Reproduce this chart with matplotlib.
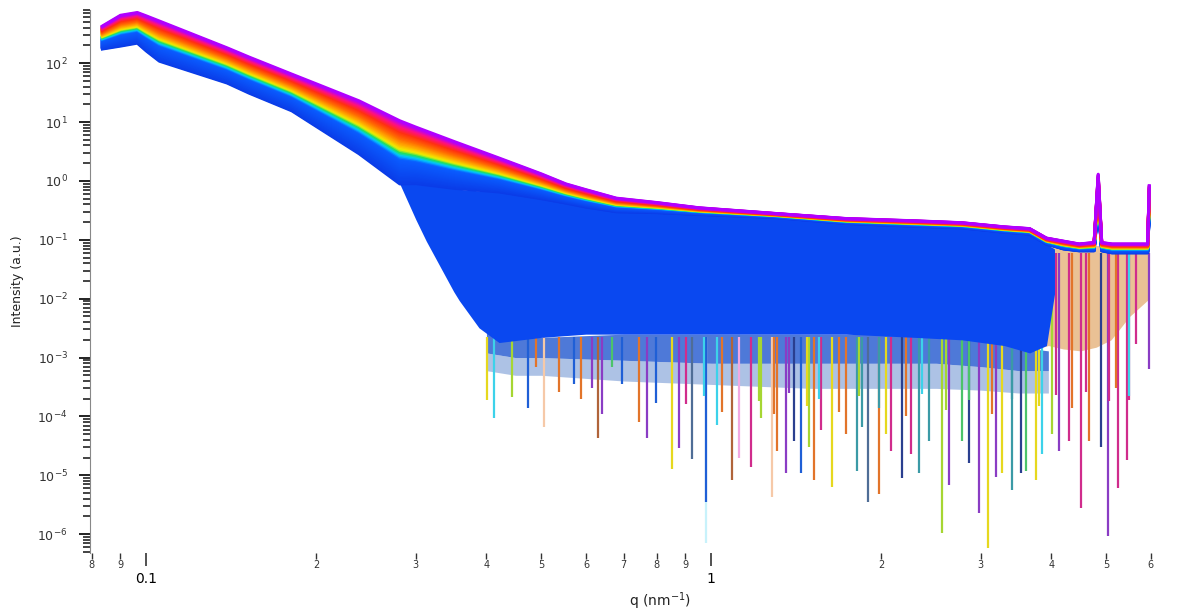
import numpy as np
import matplotlib.pyplot as plt
from matplotlib.colors import LinearSegmentedColormap
from matplotlib.ticker import FixedLocator, FixedFormatter, LogLocator, NullFormatter, LogFormatterMathtext

# upper (purple) and lower (blue) edge of the family of curves
q_curve = [0.0836, 0.09, 0.0964, 0.1, 0.1055, 0.139, 0.152, 0.181, 0.2, 0.238, 0.281,
           0.3, 0.35, 0.421, 0.5, 0.553, 0.6, 0.679, 0.8, 0.951, 1.3, 1.73, 2.3,
           2.78, 3.3, 3.66, 3.92, 4.2, 4.48, 4.76, 4.84, 4.91, 5.12, 5.5, 5.92, 5.96]
top_curve = [427, 650, 725, 635, 519, 182, 127, 65, 44.5, 22.9, 10.5,
             8.2, 4.7, 2.45, 1.32, 0.89, 0.71, 0.51, 0.43, 0.35, 0.28, 0.23, 0.21,
             0.195, 0.166, 0.155, 0.107, 0.095, 0.085, 0.09, 1.3, 0.09, 0.085, 0.085, 0.085, 0.83]
bottom_curve = [174, 195, 219, 161, 108, 46, 31, 15.5, 8.4, 2.9, 0.89,
                0.9, 0.75, 0.65, 0.5, 0.42, 0.36, 0.3, 0.29, 0.27, 0.24, 0.19, 0.17,
                0.16, 0.135, 0.125, 0.085, 0.07, 0.065, 0.065, 0.4, 0.065, 0.06, 0.06, 0.06, 0.3]

# dense blue noise band
q_blue = [0.281, 0.3, 0.313, 0.35, 0.358, 0.388, 0.421, 0.5, 0.6, 0.7, 0.8, 1.0,
          1.3, 1.73, 2.3, 2.78, 3.3, 3.66, 3.92, 4.05]
blue_top = [0.89, 0.9, 0.85, 0.75, 0.72, 0.68, 0.65, 0.5, 0.36, 0.3, 0.29, 0.27,
            0.24, 0.19, 0.17, 0.16, 0.135, 0.125, 0.085, 0.07]
blue_bottom = [0.89, 0.22, 0.095, 0.0132, 0.0093, 0.0032, 0.0018, 0.0022, 0.0025, 0.0025,
               0.0025, 0.0025, 0.0025, 0.0025, 0.0022, 0.002, 0.0016, 0.0012, 0.0016, 0.012]

# mixed colour streaks under the blue band
q_mix = [0.40, 0.45, 0.5, 0.7, 1.0, 1.5, 2.0, 2.5, 3.0, 3.5, 3.95]
mix_top = [0.0028, 0.0022, 0.0022, 0.0025, 0.0025, 0.0025, 0.0025, 0.0022, 0.002, 0.0015, 0.0013]
mix_mid = [0.0012, 0.001, 0.001, 0.0009, 0.0008, 0.0008, 0.0008, 0.0008, 0.0007, 0.0006, 0.0006]
mix_bottom = [0.0006, 0.0005, 0.0005, 0.0004, 0.00035, 0.0003, 0.0003, 0.0003, 0.00028, 0.00025, 0.00025]

# high q region where the blue band thins out
q_warm = [3.85, 3.95, 4.2, 4.5, 4.8, 5.1, 5.5, 5.96]
warm_top = [0.12, 0.1, 0.085, 0.08, 0.08, 0.078, 0.078, 0.078]
warm_bottom = [0.0015, 0.0016, 0.0014, 0.0013, 0.0015, 0.002, 0.005, 0.01]

# single streaks below the band: q, lowest value, colour
spike_q = [0.401, 0.413, 0.443, 0.473, 0.490, 0.506, 0.538, 0.572, 0.589, 0.616, 0.629,
           0.641, 0.668, 0.696, 0.746, 0.771, 0.799, 0.853, 0.878, 0.925, 0.980, 0.980,
           1.025, 1.089, 1.121, 1.178, 1.226, 1.282, 1.309, 1.358, 1.402, 1.443, 1.491,
           1.521, 1.566, 1.637, 1.734, 1.812, 1.849, 1.896, 1.977, 2.042, 2.084, 2.180,
           2.259, 2.336, 2.432, 2.566, 2.638, 2.780, 2.862, 2.982, 3.093, 3.192, 3.272,
           3.409, 3.538, 3.612, 3.760, 3.855, 4.002, 4.130, 4.302, 4.521, 4.667, 4.900,
           5.043, 5.250, 5.446, 5.492, 5.650, 5.957,
           0.903, 0.972, 1.046, 1.216, 1.292, 1.374, 1.479, 1.553, 1.685, 1.828, 1.983,
           2.213, 2.364, 2.606, 2.862, 3.142, 3.409, 3.805, 4.08, 4.355, 4.613, 5.06,
           5.21, 5.49]
spike_min = [1.9e-4, 9.5e-5, 2.1e-4, 1.4e-4, 6.8e-4, 6.5e-5, 2.6e-4, 3.6e-4, 2.0e-4, 3.1e-4, 4.3e-5,
             1.1e-4, 6.8e-4, 3.6e-4, 7.9e-5, 4.3e-5, 1.7e-4, 1.3e-5, 2.9e-5, 1.9e-5, 7.1e-7, 3.5e-6,
             7.1e-5, 8.3e-6, 2.0e-5, 1.4e-5, 9.5e-5, 4.3e-6, 2.6e-5, 1.1e-5, 3.9e-5, 1.1e-5, 3.0e-5,
             8.3e-6, 5.8e-5, 6.3e-6, 5.1e-5, 1.2e-5, 6.5e-5, 3.5e-6, 4.9e-6, 5.1e-5, 2.6e-5, 8.9e-6,
             2.3e-5, 1.1e-5, 3.9e-5, 1.05e-6, 6.8e-6, 3.9e-5, 1.6e-5, 2.3e-6, 5.8e-7, 9.3e-6, 1.1e-5,
             5.6e-6, 1.1e-5, 1.2e-5, 8.3e-6, 2.3e-5, 5.1e-5, 2.6e-5, 3.9e-5, 2.8e-6, 3.9e-5, 3.0e-5,
             9.5e-7, 6.0e-6, 1.8e-5, 1.9e-4, 1.7e-3, 6.5e-4,
             1.6e-4, 2.2e-4, 1.2e-4, 1.8e-4, 1.1e-4, 2.5e-4, 1.5e-4, 2.0e-4, 1.2e-4, 2.2e-4, 1.4e-4,
             1.0e-4, 2.4e-4, 1.3e-4, 1.9e-4, 1.1e-4, 2.0e-4, 1.5e-4, 2.3e-4, 1.4e-4, 2.6e-4, 1.8e-4,
             3.0e-4, 2.2e-4]
spike_color = ['y', 'c', 'yg', 'b', 'o', 'pe', 'o', 'b', 'o', 'pu', 'br',
               'pu', 'g', 'b', 'o', 'pu', 'b', 'y', 'pu', 'gb', 'pc', 'b',
               'c', 'br', 'pk', 'm', 'yg', 'pe', 'o', 'pu', 'n', 'b', 'yg',
               'o', 'm', 'y', 'o', 't', 't', 'gb', 'o', 'y', 'm', 'n',
               'm', 't', 't', 'yg', 'pu', 'g', 'n', 'pu', 'y', 'pu', 'y',
               't', 'n', 'g', 'y', 'c', 'yg', 'pu', 'm', 'm', 'o', 'n',
               'pu', 'm', 'm', 'm', 'm', 'pu',
               'm', 'c', 'o', 'yg', 'o', 'pu', 'y', 'c', 'o', 'yg', 't',
               'o', 'c', 'yg', 'g', 'o', 't', 'y', 'm', 'o', 'm', 'm',
               'o', 'c']

x_major_ticks = [0.1, 1]
x_major_labels = ['0.1', '1']
x_minor_ticks = [0.08, 0.09, 0.2, 0.3, 0.4, 0.5, 0.6, 0.7, 0.8, 0.9, 2, 3, 4, 5, 6]
x_minor_labels = ['8', '9', '2', '3', '4', '5', '6', '7', '8', '9', '2', '3', '4', '5', '6']

n_curves = 48

palette = {'y': '#e6d81e', 'c': '#3cd2ea', 'yg': '#a6d632', 'b': '#1f5fd6', 'o': '#e2742a',
           'pe': '#f6c9a8', 'pu': '#8a3cc4', 'br': '#b0643a', 'g': '#4cc36a', 'gb': '#4f6d96',
           'pc': '#c8f2fb', 'pk': '#f2a8e2', 'm': '#d02c8c', 'n': '#2a3f8f', 't': '#3b9aa6'}

cmap = LinearSegmentedColormap.from_list('rb', [
    (0.0, '#0a3ce8'), (0.40, '#0a5cff'), (0.46, '#00c8ff'), (0.51, '#20e060'),
    (0.56, '#f0f000'), (0.63, '#ffb000'), (0.72, '#ff7000'), (0.83, '#ff3010'),
    (0.92, '#ff1080'), (1.0, '#b000ff')])

fig = plt.figure(figsize=(11.86, 6.13), dpi=100)
ax = fig.add_axes([0.0759, 0.0979, 0.9013, 0.8858])

# colour streaks under the blue band
ax.fill_between(q_mix, mix_mid, mix_top, color='#2f62d2', alpha=0.85, lw=0, zorder=1.5)
ax.fill_between(q_mix, mix_bottom, mix_mid, color='#5d86cc', alpha=0.5, lw=0, zorder=1.5)
ax.fill_between(q_warm, warm_bottom, warm_top, color='#d98f3e', alpha=0.55, lw=0, zorder=1.5)

spike_top = np.where(np.array(spike_q) < 3.9, 2.2e-3, 0.06)
ax.vlines(spike_q, spike_min, spike_top, colors=[palette[c] for c in spike_color],
          lw=1.6, zorder=2)

ax.fill_between(q_blue, blue_bottom, blue_top, color='#0a48f0', lw=0, zorder=2.5)

# family of curves, blue (lowest) to purple (highest)
lt = np.log10(top_curve)
lb = np.log10(bottom_curve)
for f in np.linspace(0, 1, n_curves):
    ax.plot(q_curve, 10 ** (lb + f * (lt - lb)), color=cmap(f), lw=2.2, zorder=3)

ax.set_xscale('log')
ax.set_yscale('log')
ax.set_xlim(0.0795, 6.2)
ax.set_ylim(4.8e-7, 800)

for s in ['top', 'right', 'bottom']:
    ax.spines[s].set_visible(False)
ax.spines['left'].set_color('#888888')

ax.xaxis.set_major_locator(FixedLocator(x_major_ticks))
ax.xaxis.set_major_formatter(FixedFormatter(x_major_labels))
ax.xaxis.set_minor_locator(FixedLocator(x_minor_ticks))
ax.xaxis.set_minor_formatter(FixedFormatter(x_minor_labels))
ax.tick_params(axis='x', which='major', length=9, width=1.2, pad=5, labelsize=10, color='#333333')
ax.tick_params(axis='x', which='minor', length=4, width=1, pad=1, labelsize=7, color='#333333',
               labelcolor='#333333')

ax.yaxis.set_major_locator(LogLocator(base=10, numticks=20))
ax.yaxis.set_major_formatter(LogFormatterMathtext())
ax.yaxis.set_minor_locator(LogLocator(base=10, subs=np.arange(2, 10), numticks=20))
ax.yaxis.set_minor_formatter(NullFormatter())
ax.tick_params(axis='y', which='major', length=8, width=1.4, pad=8, labelsize=9, color='#222222',
               labelcolor='#333333')
ax.tick_params(axis='y', which='minor', length=5, width=1.2, color='#222222')

ax.set_ylabel('Intensity (a.u.)', fontsize=9, color='#222222')
ax.yaxis.set_label_coords(-0.062, 0.5)
ax.set_xlabel('q (nm$^{-1}$)', fontsize=10, color='#222222')
ax.xaxis.set_label_coords(0.533, -0.068)

fig.savefig('out.png', dpi=100)
